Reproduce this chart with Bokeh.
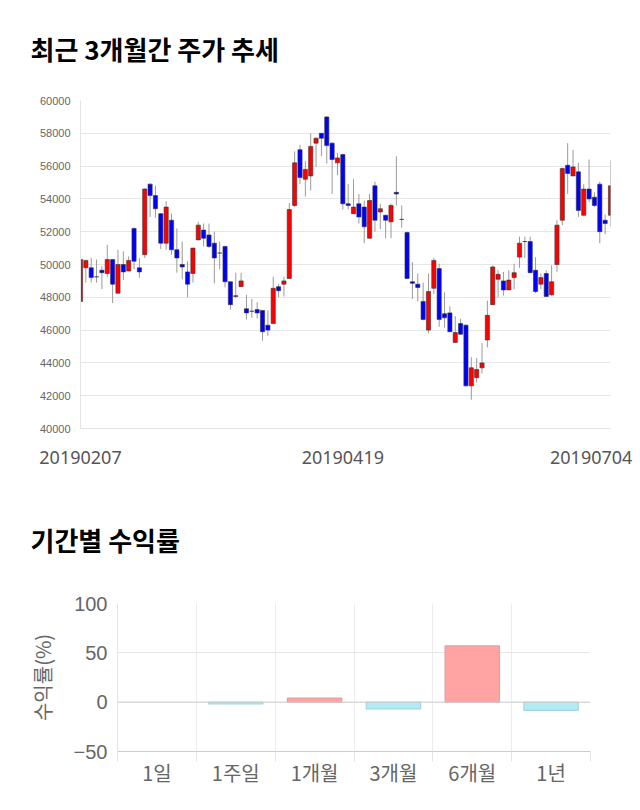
from bokeh.plotting import figure
from bokeh.models import Range1d, FixedTicker, NumeralTickFormatter, ColumnDataSource, Span, Title
from bokeh.embed import file_html
from bokeh.resources import INLINE

# ---- data: daily candles (open, high, low, close) ----
opens = [47750, 49800, 49800, 49250, 49650, 49450, 50300, 48250, 50000, 49600,
         52200, 49800, 50600, 54900, 54200, 53100, 51300, 52700, 50900, 50000,
         49550, 49450, 51500, 52100, 51800, 51300, 50700, 51100, 48950, 48050,
         48650, 47300, 47150, 47250, 47200, 46300, 46400, 48650, 48800, 49150,
         53600, 57000, 55200, 55400, 57400, 58000, 59000, 57400, 56200, 56700,
         53700, 53100, 53700, 53500, 51600, 54800, 53200, 53000, 52600, 54400,
         52750, 51950, 48950, 48800, 47750, 46000, 48550, 49750, 47000, 47050,
         45250, 46400, 46300, 42600, 43100, 43700, 45400, 47550, 49100, 49000,
         48450, 49200, 50450, 51400, 51400, 49650, 48800, 49450, 48150, 50000,
         52700, 56050, 55400, 55650, 53000, 54600, 54100, 54900, 52700, 53000]
highs = [51600, 50250, 50400, 50300, 49900, 51200, 50300, 50900, 50800, 50500,
         52250, 50400, 54650, 54950, 54800, 53150, 53850, 53100, 52200, 51400,
         50200, 51000, 52600, 52500, 52500, 52000, 51400, 51150, 48950, 49500,
         49500, 48150, 47900, 47700, 47200, 47200, 49250, 48800, 49250, 53750,
         56900, 57300, 56300, 58000, 57750, 58000, 59050, 57450, 56800, 56750,
         54900, 55200, 54300, 53900, 54300, 55050, 53700, 53050, 53700, 56600,
         53600, 52000, 50150, 49450, 48900, 49450, 50400, 50050, 48300, 47450,
         46850, 46700, 46350, 44350, 44300, 45200, 47800, 49950, 49650, 49550,
         49650, 50050, 51700, 51700, 51700, 50450, 49450, 49650, 49950, 52700,
         55900, 57400, 57000, 56200, 54900, 56400, 54400, 55050, 53050, 56350]
lows = [47000, 48900, 48900, 48900, 48500, 49250, 47650, 48250, 49050, 49600,
        49700, 49200, 50400, 52900, 52850, 50950, 50900, 50600, 49500, 49100,
        48000, 48900, 51500, 51100, 51000, 48850, 49700, 48600, 47250, 47950,
        48650, 46650, 46750, 46700, 45350, 45650, 46400, 48000, 48050, 49150,
        53500, 54900, 54150, 54500, 55950, 56600, 56150, 54300, 55450, 53350,
        53350, 53100, 52500, 51300, 51600, 52000, 52150, 51600, 51600, 53600,
        52250, 49100, 47900, 47750, 46600, 45800, 48200, 46200, 46150, 45900,
        45250, 45700, 42550, 41750, 42800, 43350, 44950, 47550, 48000, 48100,
        48450, 48500, 49800, 50400, 49500, 48250, 48500, 48050, 48100, 49550,
        52400, 54300, 55400, 52900, 53000, 53800, 53500, 51300, 51850, 52300]
closes = [50300, 50250, 49200, 49250, 49500, 50300, 48800, 50000, 49550, 50250,
          50200, 49550, 54600, 54200, 53400, 51300, 53500, 50900, 50400, 49850,
          48800, 51000, 52400, 51600, 51100, 50400, 50700, 48950, 47550, 48100,
          49000, 47050, 47150, 47050, 45900, 46000, 48550, 48400, 49000, 53350,
          56200, 55300, 55800, 57200, 57700, 57700, 57250, 56400, 56500, 53700,
          53600, 53500, 52900, 52300, 53900, 52700, 53400, 52700, 53600, 54300,
          52750, 49150, 48850, 48600, 46650, 48350, 50250, 46650, 46750, 45900,
          45850, 45750, 42600, 43700, 43600, 44000, 46900, 49850, 49400, 48450,
          49050, 49500, 51300, 51400, 49500, 48350, 49200, 48050, 48950, 52400,
          55850, 55550, 55950, 53300, 54600, 54000, 53600, 52000, 52500, 54800]
date_labels = ["20190207", "20190419", "20190704"]
date_index = [0, 49, 99]
price_ticks = [40000, 42000, 44000, 46000, 48000, 50000, 52000, 54000, 56000, 58000, 60000]

# ---- data: period returns ----
periods = ["1일", "1주일", "1개월", "3개월", "6개월", "1년"]
returns = [0.0, -1.7, 4.1, -6.9, 57.0, -8.3]
return_ticks = [-50, 0, 50, 100]

KR = "Noto Sans CJK KR"


def add_title(p, text, offset, spacer_standoff):
    # an invisible spacer next to the frame pushes the real title upward
    p.add_layout(Title(text=" ", text_font_size="10px", standoff=spacer_standoff,
                       text_color="#ffffff"), "above")
    p.add_layout(Title(text=text, text_font=KR, text_font_size="26px", text_font_style="bold",
                       text_color="#000000", align="left", offset=offset), "above")


# ================= candlestick chart =================
n = len(opens)
idx = list(range(n))
src = ColumnDataSource(dict(
    x=idx,
    high=highs,
    low=lows,
    top=[max(o, c) for o, c in zip(opens, closes)],
    bottom=[min(o, c) for o, c in zip(opens, closes)],
    color=["#ff0000" if c >= o else "#0000ff" for o, c in zip(opens, closes)],
))

p1 = figure(width=640, height=490, x_range=Range1d(0, n - 1), y_range=Range1d(40000, 60000),
            output_backend="svg", toolbar_location=None,
            min_border_left=80, min_border_right=30, min_border_top=100, min_border_bottom=62)
p1.outline_line_color = None
add_title(p1, "최근 3개월간 주가 추세", -50, 16)

p1.segment(x0="x", y0="high", x1="x", y1="low", source=src, line_color="#9a9a9a", line_width=1)
p1.vbar(x="x", width=0.78, top="top", bottom="bottom", source=src,
        fill_color="color", line_color="#333333", line_width=0.6)

p1.yaxis.ticker = FixedTicker(ticks=price_ticks)
p1.yaxis.formatter = NumeralTickFormatter(format="0")
p1.yaxis.major_label_text_font = "Liberation Sans"
p1.yaxis.major_label_text_font_size = "11px"
p1.yaxis.major_label_text_color = "#666666"
p1.yaxis.major_tick_line_color = None
p1.yaxis.major_tick_out = 0
p1.yaxis.minor_tick_line_color = None
p1.yaxis.axis_line_color = "#e4e4e4"
p1.yaxis.major_label_standoff = 10

last_pos = min(date_index[-1], n - 1 - 3.6)
tick_pos = date_index[:-1] + [last_pos]
p1.xaxis.ticker = FixedTicker(ticks=tick_pos)
p1.xaxis.major_label_overrides = {t: lab for t, lab in zip(tick_pos, date_labels)}
p1.xaxis.major_label_text_font = "Noto Sans"
p1.xaxis.major_label_text_font_size = "18px"
p1.xaxis.major_label_text_color = "#555555"
p1.xaxis.major_tick_line_color = None
p1.xaxis.major_tick_out = 0
p1.xaxis.minor_tick_line_color = None
p1.xaxis.axis_line_color = "#e4e4e4"
p1.xaxis.major_label_standoff = 22

p1.ygrid.ticker = FixedTicker(ticks=price_ticks)
p1.ygrid.grid_line_color = "#e6e6e6"
p1.xgrid.grid_line_color = None

# ================= period return bar chart =================
xs = [i + 0.5 for i in range(len(periods))]
fills = ["#ffa3a3" if v > 0 else ("#b2ebf2" if v < 0 else "#ffffff") for v in returns]
lines = ["#e3a1a1" if v > 0 else ("#a3d7df" if v < 0 else "#ffffff") for v in returns]
alphas = [1.0 if v != 0 else 0.0 for v in returns]
bsrc = ColumnDataSource(dict(x=xs, top=returns, fill=fills, line=lines, alpha=alphas))

p2 = figure(width=640, height=320, x_range=Range1d(0, len(periods)), y_range=Range1d(-50, 100),
            output_backend="svg", toolbar_location=None,
            min_border_left=117, min_border_right=50, min_border_top=113, min_border_bottom=59)
p2.outline_line_color = None
add_title(p2, "기간별 수익률", -87, 28)

p2.vbar(x="x", width=0.69, top="top", bottom=0, source=bsrc,
        fill_color="fill", line_color="line", line_width=1.2,
        fill_alpha="alpha", line_alpha="alpha")

p2.yaxis.ticker = FixedTicker(ticks=return_ticks)
p2.yaxis.major_label_text_font = "Liberation Sans"
p2.yaxis.major_label_text_font_size = "20px"
p2.yaxis.major_label_text_color = "#666666"
p2.yaxis.major_tick_line_color = None
p2.yaxis.major_tick_out = 0
p2.yaxis.minor_tick_line_color = None
p2.yaxis.axis_line_color = "#e4e4e4"
p2.yaxis.major_label_standoff = 10
p2.yaxis.axis_label = "수익률(%)"
p2.yaxis.axis_label_text_font = KR
p2.yaxis.axis_label_text_font_size = "20px"
p2.yaxis.axis_label_text_font_style = "normal"
p2.yaxis.axis_label_text_color = "#666666"
p2.yaxis.axis_label_standoff = 14

p2.xaxis.ticker = FixedTicker(ticks=xs, minor_ticks=list(range(len(periods) + 1)))
p2.xaxis.major_label_overrides = {x: lab for x, lab in zip(xs, periods)}
p2.xaxis.major_label_text_font = KR
p2.xaxis.major_label_text_font_size = "20px"
p2.xaxis.major_label_text_color = "#666666"
p2.xaxis.major_tick_line_color = None
p2.xaxis.major_tick_out = 0
p2.xaxis.minor_tick_in = 0
p2.xaxis.minor_tick_out = 10
p2.xaxis.minor_tick_line_color = "#e4e4e4"
p2.xaxis.axis_line_color = "#cccccc"
p2.xaxis.major_label_standoff = -4

p2.ygrid.ticker = FixedTicker(ticks=return_ticks)
p2.ygrid.grid_line_color = "#e6e6e6"
p2.xgrid.ticker = FixedTicker(ticks=list(range(len(periods))))
p2.xgrid.grid_line_color = "#ececec"
p2.add_layout(Span(location=0, dimension="width", line_color="#cfcfcf", line_width=1))

open("out.html", "w").write(file_html([p1, p2], INLINE))
